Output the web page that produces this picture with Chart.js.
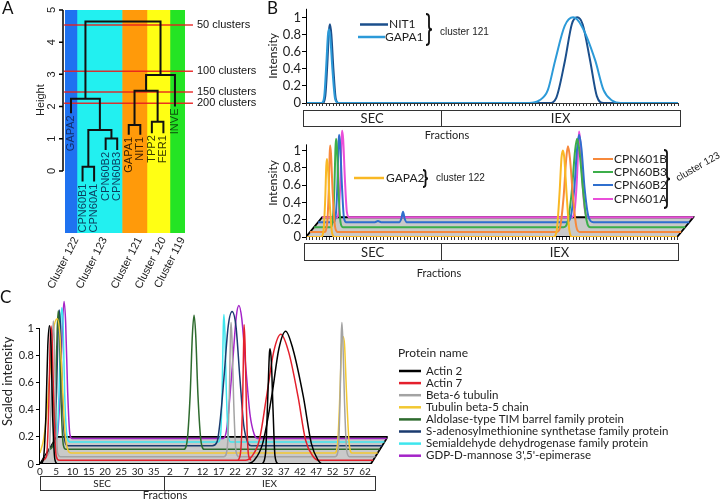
<!DOCTYPE html>
<html>
<head>
<meta charset="utf-8">
<script src="https://cdn.jsdelivr.net/npm/chart.js@4.4.1/dist/chart.umd.min.js"></script>
<style>
  body { margin: 0; background: #fff; width: 720px; height: 499px; position: relative; overflow: hidden; }
  canvas { position: absolute; }
</style>
</head>
<body>
<canvas id="panelA" width="265" height="300" style="left:0;top:0"></canvas>
<canvas id="panelBTop" width="480" height="140" style="left:240px;top:0"></canvas>
<canvas id="panelBBottom" width="480" height="180" style="left:240px;top:120px"></canvas>
<canvas id="panelC" width="720" height="209" style="left:0;top:290px"></canvas>
<script>
const FA = '"Liberation Sans", Arial, sans-serif';
const FB = 'Lato, "Open Sans", sans-serif';

// ---- panel A: dendrogram ----
const leafNames = ['GAPA2', 'CPN60B1', 'CPN60A1', 'CPN60B2', 'CPN60B3', 'GAPA1', 'NIT1', 'TPP2', 'FER1', 'INVE'];
const leafBottoms = [1.79, -0.33, -0.33, 0.65, 0.65, 1.12, 1.12, 1.17, 1.17, 2.0];
const leafTextColors = ['#13306a', '#0c3c5e', '#0c3c5e', '#0c3c5e', '#0c3c5e', '#3d2100', '#3d2100', '#3a3a00', '#3a3a00', '#0d500d'];
// [left node, right node, height]; nodes 0-9 are leaves, 10+ are merges in order
const merges = [[1, 2, 0.13], [3, 4, 1.01], [10, 11, 1.27], [0, 12, 2.24], [5, 6, 1.43], [7, 8, 1.53], [14, 15, 2.49], [16, 9, 2.98], [13, 17, 4.64]];
const clusterNames = ['Cluster 122', 'Cluster 123', 'Cluster 121', 'Cluster 120', 'Cluster 119'];
const clusterEdges = [-0.52, 0.52, 4.42, 6.58, 8.57, 9.87];
const clusterColors = ['#1f72f0', '#22f0f0', '#ff9a0a', '#ffff14', '#24e424'];
const cutHeights = [4.53, 3.1, 2.45, 2.1];
const cutNames = ['50 clusters', '100 clusters', '150 clusters', '200 clusters'];
const heightTicks = [0, 1, 2, 3, 4, 5];
const aYMin = -1.93;

// ---- panel B ----
const intensityTicks = [0, 0.2, 0.4, 0.6, 0.8, 1];
const bFractions = 110;
const bSecEnd = 40;
const nit1 = [[0, 0], [4.9, 0], [5.7, 0.08], [6.3, 0.45], [6.8, 0.85], [7.1, 0.92], [7.5, 0.8], [8.1, 0.4], [8.8, 0.05], [9.6, 0],
  [72, 0], [74, 0.06], [76.6, 0.5], [78.6, 0.92], [80.2, 1.0], [81.8, 0.92], [84, 0.5], [86, 0.08], [88, 0], [110, 0]];
const gapa1 = [[0, 0], [4.6, 0], [5.4, 0.08], [6, 0.45], [6.5, 0.8], [6.8, 0.86], [7.2, 0.76], [7.8, 0.4], [8.6, 0.05], [9.5, 0],
  [66, 0], [69, 0.03], [71.5, 0.15], [73.7, 0.5], [76.5, 0.9], [79, 1.0], [81.5, 0.9], [85.5, 0.5], [88, 0.15], [90.5, 0.03], [93, 0], [110, 0]];

const bLayerNames = ['GAPA2', 'CPN601B', 'CPN60B3', 'CPN60B2', 'CPN601A'];
const bLayerColors = ['#f9b824', '#f7893b', '#3cae4a', '#2f6fce', '#ea4fd9'];
const gapa2 = [[0, 0], [4.4, 0], [5.2, 0.08], [5.7, 0.45], [6.0, 0.82], [6.2, 0.9], [6.5, 0.8], [7.0, 0.4], [7.7, 0.05], [8.4, 0],
  [73.2, 0], [74.2, 0.08], [75, 0.5], [75.6, 0.92], [76, 1.0], [76.4, 0.92], [77.1, 0.5], [77.9, 0.08], [78.8, 0], [109.8, 0]];
const cpn601b = [[0, 0], [4.2, 0], [5, 0.08], [5.5, 0.45], [5.8, 0.9], [5.95, 1.0], [6.2, 0.9], [6.7, 0.45], [7.4, 0.06], [8.2, 0],
  [73, 0], [74, 0.06], [75, 0.4], [75.8, 0.85], [76.3, 0.99], [76.9, 0.85], [77.8, 0.4], [78.8, 0.06], [79.8, 0], [109.8, 0]];
const cpn60b3 = [[0, 0], [4.8, 0], [5.5, 0.08], [6, 0.45], [6.3, 0.9], [6.5, 1.02], [6.8, 0.9], [7.2, 0.45], [7.8, 0.06], [8.5, 0],
  [73.8, 0], [75, 0.06], [76.2, 0.4], [77.2, 0.88], [77.8, 1.02], [78.5, 0.88], [79.5, 0.45], [80.6, 0.08], [81.8, 0], [109.8, 0]];
const cpn60b2 = [[0, 0], [4.5, 0], [5.2, 0.08], [5.7, 0.45], [6, 0.9], [6.2, 1.01], [6.5, 0.9], [7, 0.45], [7.6, 0.06], [8.3, 0],
  [16.8, 0], [17.7, 0.015], [18.6, 0], [24, 0], [24.6, 0.04], [25.1, 0.12], [25.6, 0.04], [26.2, 0],
  [73.5, 0], [74.7, 0.06], [75.8, 0.4], [76.6, 0.85], [77.2, 1.01], [77.9, 0.85], [78.8, 0.4], [80, 0.06], [81.4, 0], [109.8, 0]];
const cpn601a = [[0, 0], [4.3, 0], [4.9, 0.08], [5.4, 0.45], [5.7, 0.9], [5.9, 1.0], [6.2, 0.9], [6.7, 0.45], [7.3, 0.06], [8, 0],
  [73.8, 0], [74.6, 0.06], [75.3, 0.4], [75.8, 0.85], [76, 0.99], [76.4, 0.85], [77, 0.4], [77.8, 0.06], [78.6, 0], [109.8, 0]];
const bLayers = [gapa2, cpn601b, cpn60b3, cpn60b2, cpn601a];
const bDx = 1.2, bDy = 0.057;

// ---- panel C ----
const cSecTicks = [0, 5, 10, 15, 20, 25, 30, 35];
const cIexTicks = [2, 7, 12, 17, 22, 27, 32, 37, 42, 47, 52, 57, 62];
const cIexStart = 38;
const cSecEnd = 38.2;
const cEnd = 103;
const proteinNames = ['Actin 2', 'Actin 7', 'Beta-6 tubulin', 'Tubulin beta-5 chain', 'Aldolase-type TIM barrel family protein',
  'S-adenosylmethionine synthetase family protein', 'Semialdehyde dehydrogenase family protein', 'GDP-D-mannose 3\',5\'-epimerase'];
const proteinColors = ['#000000', '#e4202c', '#a3a3a3', '#f2c832', '#2e6b2e', '#1b3b6f', '#3ee6ee', '#a424c8'];
const actin2 = [
  [[0, 0], [1.0, 0.03], [1.8, 0.35], [2.4, 0.87], [2.9, 1.02], [3.4, 0.87], [3.9, 0.35], [4.6, 0.03], [5.4, 0],
   [63, 0], [66, 0.03], [68.5, 0.15], [71.3, 0.5], [73.5, 0.85], [75.6, 0.98], [77.8, 0.85], [81, 0.5], [83.5, 0.15], [85.5, 0.03], [87, 0], [101.8, 0]],
  [[68.4, 0], [69.4, 0.08], [70.1, 0.5], [70.6, 0.82], [70.8, 0.85], [71.2, 0.75], [71.7, 0.4], [72.3, 0.06], [73.2, 0]]];
const actin7 = [
  [[0, 0], [1.3, 0.03], [2.0, 0.4], [2.4, 0.85], [2.7, 0.99], [3.1, 0.85], [3.6, 0.35], [4.3, 0.03], [5.2, 0],
   [62.5, 0], [64.5, 0.03], [66.8, 0.15], [69, 0.47], [71.2, 0.8], [73.4, 0.93], [75.8, 0.8], [78.7, 0.47], [81, 0.15], [83.3, 0.03], [85, 0], [101.8, 0]],
  [[60.3, 0], [61.1, 0.08], [61.7, 0.5], [62, 0.92], [62.1, 1.0], [62.4, 0.85], [62.8, 0.4], [63.4, 0.05], [64.2, 0]]];
const beta6 = [
  [[0, 0], [1.4, 0.03], [2.0, 0.4], [2.4, 0.85], [2.7, 1.0], [3.0, 0.85], [3.4, 0.4], [4.0, 0.03], [4.8, 0],
   [55.2, 0], [56.2, 0.06], [56.9, 0.5], [57.2, 0.9], [57.4, 0.99], [57.7, 0.85], [58.2, 0.4], [58.9, 0.04], [59.8, 0],
   [89.4, 0], [90.4, 0.06], [91, 0.5], [91.3, 0.9], [91.5, 0.99], [91.8, 0.85], [92.3, 0.4], [93, 0.04], [93.8, 0], [101.8, 0]]];
const tubB5 = [
  [[-2.1, 0], [-1, 0.1], [0, 0.3], [0.8, 0.55], [2, 0.9], [3.2, 0.99], [4, 0.88], [4.7, 0.55], [5.5, 0.18], [6.5, 0.02], [7.5, 0],
   [88.6, 0], [89.5, 0.08], [90.2, 0.45], [90.7, 0.8], [91.1, 0.86], [91.6, 0.8], [92.2, 0.45], [93, 0.08], [93.9, 0], [101.8, 0]]];
const aldolase = [
  [[0, 0], [1.2, 0.03], [1.9, 0.35], [2.5, 0.88], [2.8, 1.02], [3.2, 0.88], [3.7, 0.35], [4.4, 0.03], [5.2, 0],
   [41.4, 0], [42.4, 0.05], [43.4, 0.4], [44.1, 0.85], [44.6, 0.99], [45.1, 0.85], [45.8, 0.4], [46.8, 0.05], [47.8, 0], [101.8, 0]]];
const samSynth = [
  [[0, 0], [0.9, 0.03], [1.6, 0.4], [2.1, 0.88], [2.4, 1.0], [2.8, 0.88], [3.4, 0.35], [4.2, 0.03], [5, 0],
   [49.5, 0], [51, 0.03], [52, 0.2], [53.1, 0.5], [54.4, 0.88], [55.6, 0.99], [56.8, 0.88], [58, 0.5], [59.2, 0.15], [60.5, 0.02], [61.5, 0], [101.8, 0]]];
const semiald = [
  [[0, 0], [1, 0.03], [1.7, 0.4], [2.2, 0.88], [2.5, 0.99], [2.9, 0.88], [3.4, 0.35], [4.2, 0.03], [5, 0],
   [50.6, 0], [51.4, 0.06], [51.9, 0.45], [52.2, 0.85], [52.4, 0.94], [52.7, 0.8], [53.1, 0.4], [53.7, 0.05], [54.5, 0], [101.8, 0]]];
const gdpMan = [
  [[0, 0], [0.5, 0.03], [1.3, 0.35], [2.1, 0.88], [2.5, 1.01], [3, 0.85], [3.6, 0.35], [4.3, 0.03], [5, 0],
   [51.5, 0], [52.5, 0.06], [53.5, 0.3], [54.5, 0.6], [55.5, 0.9], [56.3, 0.98], [57.2, 0.88], [58.5, 0.5], [59.7, 0.18], [61, 0.03], [62, 0], [101.8, 0]]];
const cTraces = [actin2, actin7, beta6, tubB5, aldolase, samSynth, semiald, gdpMan];
const cDx = 0.7, cDy = 0.027;

// ---- helpers ----
function text(ctx, s, x, y, font, color, align, rot) {
  ctx.save();
  ctx.translate(x, y);
  if (rot) ctx.rotate(rot);
  ctx.font = font;
  ctx.fillStyle = color;
  ctx.textAlign = align || 'left';
  ctx.textBaseline = 'middle';
  ctx.fillText(s, 0, 0);
  ctx.restore();
}

function brace(ctx, x, y0, y1, w) {
  const ym = (y0 + y1) / 2;
  ctx.save();
  ctx.strokeStyle = '#111';
  ctx.lineWidth = 1.8;
  ctx.beginPath();
  ctx.moveTo(x, y0);
  ctx.quadraticCurveTo(x + w, y0, x + w, y0 + w);
  ctx.lineTo(x + w, ym - w);
  ctx.quadraticCurveTo(x + w, ym, x + 2 * w, ym);
  ctx.quadraticCurveTo(x + w, ym, x + w, ym + w);
  ctx.lineTo(x + w, y1 - w);
  ctx.quadraticCurveTo(x + w, y1, x, y1);
  ctx.stroke();
  ctx.restore();
}

function legendLine(ctx, x0, x1, y, color, w) {
  ctx.save();
  ctx.strokeStyle = color;
  ctx.lineWidth = w;
  ctx.beginPath();
  ctx.moveTo(x0, y);
  ctx.lineTo(x1, y);
  ctx.stroke();
  ctx.restore();
}

function fractionBox(ctx, x0, xm, x1, y0, y1, font) {
  ctx.save();
  ctx.strokeStyle = '#333';
  ctx.lineWidth = 1;
  ctx.strokeRect(Math.round(x0) + 0.5, Math.round(y0) + 0.5, Math.round(x1 - x0), Math.round(y1 - y0));
  ctx.beginPath();
  ctx.moveTo(Math.round(xm) + 0.5, y0);
  ctx.lineTo(Math.round(xm) + 0.5, y1);
  ctx.stroke();
  ctx.restore();
  text(ctx, 'SEC', (x0 + xm) / 2, (y0 + y1) / 2 + 1, font, '#222', 'center');
  text(ctx, 'IEX', (xm + x1) / 2, (y0 + y1) / 2 + 1, font, '#222', 'center');
}

function vAxis(ctx, x, yA, yB) {
  ctx.save();
  ctx.strokeStyle = '#000';
  ctx.lineWidth = 1;
  ctx.beginPath();
  ctx.moveTo(Math.round(x) + 0.5, yA);
  ctx.lineTo(Math.round(x) + 0.5, yB);
  ctx.stroke();
  ctx.restore();
}

function trace(points, color, width, order, depth, dx, dy) {
  return {
    data: points.map(p => ({ x: p[0] + depth * dx, y: p[1] + depth * dy })),
    showLine: true, pointRadius: 0, borderColor: color, borderWidth: width,
    cubicInterpolationMode: 'monotone', fill: false, order: order
  };
}

function plane(xEnd, depth, dx, dy) {
  const sx = depth * dx, sy = depth * dy;
  return {
    data: [{ x: 0, y: 0 }, { x: xEnd, y: 0 }, { x: xEnd + sx, y: sy }, { x: sx, y: sy }, { x: 0, y: 0 }],
    showLine: true, pointRadius: 0, borderColor: '#000', borderWidth: 1.8,
    backgroundColor: '#c9c9c9', fill: 'shape', tension: 0, order: 100
  };
}

const common = {
  animation: false, responsive: false, events: [],
  plugins: { legend: { display: false }, tooltip: { enabled: false } }
};

const shortNum = v => String(Math.round(v * 10) / 10);

function fracAxis(max, height, lastTick) {
  return {
    type: 'linear', min: 0, max: max,
    afterFit: s => { s.height = height; },
    afterBuildTicks: s => { s.ticks = s.ticks.filter(t => t.value <= lastTick); },
    ticks: { display: false, stepSize: 1 },
    grid: { drawOnChartArea: false, tickLength: 3, color: '#333' },
    border: { display: false }
  };
}

function intensityAxis(max, width, title, size) {
  return {
    type: 'linear', min: 0, max: max,
    afterFit: s => { s.width = width; },
    afterBuildTicks: s => { s.ticks = intensityTicks.map(v => ({ value: v })); },
    ticks: { font: { family: FB, size: size }, color: '#222', padding: 1, callback: shortNum },
    grid: { drawOnChartArea: false, tickLength: 4, color: '#000' },
    border: { display: false },
    title: { display: true, text: title, font: { family: FB, size: size - 1 }, color: '#222', padding: { top: 0, bottom: 0 } }
  };
}

// ---- panel A chart ----
const bandSets = clusterColors.map((c, i) => ({
  data: [{ x: clusterEdges[i], y: aYMin }, { x: clusterEdges[i + 1], y: aYMin }, { x: clusterEdges[i + 1], y: 5 }, { x: clusterEdges[i], y: 5 }],
  showLine: true, pointRadius: 0, borderColor: c, borderWidth: 0.5, backgroundColor: c, fill: 'shape', tension: 0, order: 100
}));
const cutSets = cutHeights.map(h => ({
  data: [{ x: -0.6, y: h }, { x: 10.56, y: h }],
  showLine: true, pointRadius: 0, borderColor: 'rgba(232,30,30,0.9)', borderWidth: 1.5, clip: false, order: 50
}));
const nodeX = leafNames.map((n, i) => i);
const nodeH = leafBottoms.slice();
const dendroSets = merges.map(([l, r, h]) => {
  const seg = [{ x: nodeX[l], y: nodeH[l] }, { x: nodeX[l], y: h }, { x: nodeX[r], y: h }, { x: nodeX[r], y: nodeH[r] }];
  nodeX.push((nodeX[l] + nodeX[r]) / 2);
  nodeH.push(h);
  return { data: seg, showLine: true, pointRadius: 0, borderColor: '#111', borderWidth: 2, tension: 0, clip: false, order: 0 };
});

new Chart(document.getElementById('panelA'), {
  type: 'scatter',
  data: { datasets: [...dendroSets, ...cutSets, ...bandSets] },
  options: {
    ...common,
    layout: { padding: { left: 65, right: 80, top: 10, bottom: 67 } },
    scales: {
      x: { type: 'linear', display: false, min: -0.52, max: 9.87 },
      y: { type: 'linear', display: false, min: aYMin, max: 5 }
    }
  },
  plugins: [{
    id: 'panelAText',
    afterDraw(chart) {
      const ctx = chart.ctx, xs = chart.scales.x, ys = chart.scales.y;
      const ax = chart.chartArea.left - 2;
      ctx.save();
      ctx.strokeStyle = '#000';
      ctx.lineWidth = 1.5;
      ctx.beginPath();
      ctx.moveTo(ax, ys.getPixelForValue(0));
      ctx.lineTo(ax, ys.getPixelForValue(5));
      heightTicks.forEach(v => {
        const y = ys.getPixelForValue(v);
        ctx.moveTo(ax - 4, y);
        ctx.lineTo(ax, y);
      });
      ctx.stroke();
      ctx.restore();
      heightTicks.forEach(v => text(ctx, String(v), ax - 11, ys.getPixelForValue(v), '11px ' + FA, '#222', 'center', -Math.PI / 2));
      text(ctx, 'Height', 41, ys.getPixelForValue(2.2), '11px ' + FA, '#222', 'center', -Math.PI / 2);
      leafNames.forEach((n, i) => text(ctx, n, xs.getPixelForValue(i), ys.getPixelForValue(leafBottoms[i]) + 2,
        '11px ' + FA, leafTextColors[i], 'right', -Math.PI / 2));
      clusterNames.forEach((n, i) => {
        const cx = xs.getPixelForValue((clusterEdges[i] + clusterEdges[i + 1]) / 2) + 5;
        text(ctx, n, cx, chart.chartArea.bottom + 5, '11px ' + FA, '#222', 'right', -1.1);
      });
      cutNames.forEach((n, i) => text(ctx, n, 197, ys.getPixelForValue(cutHeights[i]), '11px ' + FA, '#111', 'left'));
      text(ctx, 'A', 2, 9, '17px ' + FB, '#111', 'left');
    }
  }]
});

// ---- panel B top ----
new Chart(document.getElementById('panelBTop'), {
  type: 'scatter',
  data: {
    datasets: [
      trace(gapa1, '#2c9ad8', 2, 0, 0, 0, 0),
      trace(nit1, '#1b4f8c', 2, 1, 0, 0, 0)
    ]
  },
  options: {
    ...common,
    layout: { padding: { left: 26, right: 42, top: 5, bottom: 0 } },
    scales: {
      x: fracAxis(bFractions, 37, bFractions),
      y: intensityAxis(1.1, 40, 'Intensity', 13)
    }
  },
  plugins: [{
    id: 'panelBTopText',
    afterDraw(chart) {
      const ctx = chart.ctx, xs = chart.scales.x, ys = chart.scales.y, a = chart.chartArea;
      vAxis(ctx, a.left, ys.getPixelForValue(0), ys.getPixelForValue(1.1));
      legendLine(ctx, xs.getPixelForValue(0), xs.getPixelForValue(bFractions), Math.round(a.bottom) + 0.5, '#333', 1);
      fractionBox(ctx, a.left - 3, xs.getPixelForValue(bSecEnd), xs.getPixelForValue(bFractions) + 2, 110, 126, '13px ' + FB);
      text(ctx, 'Fractions', 207, 135, '11px ' + FB, '#222', 'center');
      legendLine(ctx, 120, 148, 24.5, '#1b4f8c', 2.5);
      text(ctx, 'NIT1', 149, 24, '12px ' + FB, '#222', 'left');
      legendLine(ctx, 118, 145, 37, '#2c9ad8', 2.5);
      text(ctx, 'GAPA1', 145, 37, '12px ' + FB, '#222', 'left');
      brace(ctx, 186, 14, 45, 3);
      text(ctx, 'cluster 121', 200, 32, '10px ' + FA, '#222', 'left');
      text(ctx, 'B', 27, 9, '17px ' + FB, '#111', 'left');
    }
  }]
});

// ---- panel B bottom ----
new Chart(document.getElementById('panelBBottom'), {
  type: 'scatter',
  data: {
    datasets: [
      ...bLayers.map((pts, d) => trace(pts, bLayerColors[d], 2, d, d, bDx, bDy)),
      plane(109.8, 4, bDx, bDy)
    ]
  },
  options: {
    ...common,
    layout: { padding: { left: 26, right: 25.3, top: 6, bottom: 0 } },
    scales: {
      x: fracAxis(115, 63, bFractions),
      y: intensityAxis(1.25, 40, 'Intensity', 13)
    }
  },
  plugins: [{
    id: 'panelBBottomText',
    afterDraw(chart) {
      const ctx = chart.ctx, xs = chart.scales.x, ys = chart.scales.y, a = chart.chartArea;
      vAxis(ctx, a.left, ys.getPixelForValue(0), ys.getPixelForValue(1.07));
      fractionBox(ctx, a.left - 2, xs.getPixelForValue(bSecEnd), xs.getPixelForValue(bFractions), 123, 140, '13px ' + FB);
      text(ctx, 'Fractions', 199, 153, '11px ' + FB, '#222', 'center');
      legendLine(ctx, 114, 144, 58, bLayerColors[0], 2.5);
      text(ctx, 'GAPA2', 146, 58, '12px ' + FB, '#222', 'left');
      brace(ctx, 183, 50, 67, 2.5);
      text(ctx, 'cluster 122', 196, 58, '10px ' + FA, '#222', 'left');
      const rows = [[1, 39], [2, 52], [3, 65], [4, 79]];
      rows.forEach(([d, y]) => {
        legendLine(ctx, 353, 373, y, bLayerColors[d], 2);
        text(ctx, bLayerNames[d], 374, y, '12px ' + FB, '#222', 'left');
      });
      brace(ctx, 424, 30, 88, 3);
      text(ctx, 'cluster 123', 458, 47, '10px ' + FA, '#222', 'center', -0.52);
    }
  }]
});

// ---- panel C ----
const cSets = [];
cTraces.forEach((protein, d) => {
  protein.forEach(pts => cSets.push(trace(pts, proteinColors[d], 1.5, d, d, cDx, cDy)));
});
cSets.push(plane(101.8, 7.4, cDx, cDy));

new Chart(document.getElementById('panelC'), {
  type: 'scatter',
  data: { datasets: cSets },
  options: {
    ...common,
    layout: { padding: { left: 0, right: 332.25, top: 7, bottom: 0 } },
    scales: {
      x: {
        type: 'linear', min: 0, max: 107,
        afterFit: s => { s.height = 35; },
        afterBuildTicks: s => {
          s.ticks = cSecTicks.map(v => ({ value: v })).concat(cIexTicks.map(v => ({ value: v + cIexStart })));
        },
        ticks: {
          autoSkip: false, maxRotation: 0, minRotation: 0, padding: 2,
          font: { family: FB, size: 10 }, color: '#222',
          callback: v => String(v >= cIexStart ? v - cIexStart : v)
        },
        grid: { display: false, drawTicks: false },
        border: { display: false }
      },
      y: {
        type: 'linear', min: 0, max: 1.22,
        afterFit: s => { s.width = 40; },
        afterBuildTicks: s => { s.ticks = intensityTicks.map(v => ({ value: v })); },
        ticks: { font: { family: FB, size: 11 }, color: '#222', padding: 2, callback: shortNum },
        grid: { drawOnChartArea: false, tickLength: 4, color: '#000' },
        border: { display: false },
        title: { display: true, text: 'Scaled intensity', font: { family: FB, size: 13 }, color: '#222', padding: { top: 0, bottom: 0 } }
      }
    }
  },
  plugins: [{
    id: 'panelCText',
    afterDraw(chart) {
      const ctx = chart.ctx, xs = chart.scales.x, ys = chart.scales.y, a = chart.chartArea;
      vAxis(ctx, a.left - 1, ys.getPixelForValue(0), ys.getPixelForValue(1));
      fractionBox(ctx, xs.getPixelForValue(0), xs.getPixelForValue(cSecEnd), xs.getPixelForValue(cEnd), 186, 200, '10px ' + FB);
      text(ctx, 'Fractions', 165, 205, '11px ' + FB, '#222', 'center');
      text(ctx, 'Protein name', 398, 63, '12px ' + FB, '#222', 'left');
      proteinNames.forEach((n, i) => {
        const y = 81 + i * 12.1;
        legendLine(ctx, 399, 421, y, proteinColors[i], 2.5);
        text(ctx, n, 426, y, '11.5px ' + FB, '#222', 'left');
      });
      text(ctx, 'C', 0, 8, '17px ' + FB, '#111', 'left');
    }
  }]
});
</script>
</body>
</html>
